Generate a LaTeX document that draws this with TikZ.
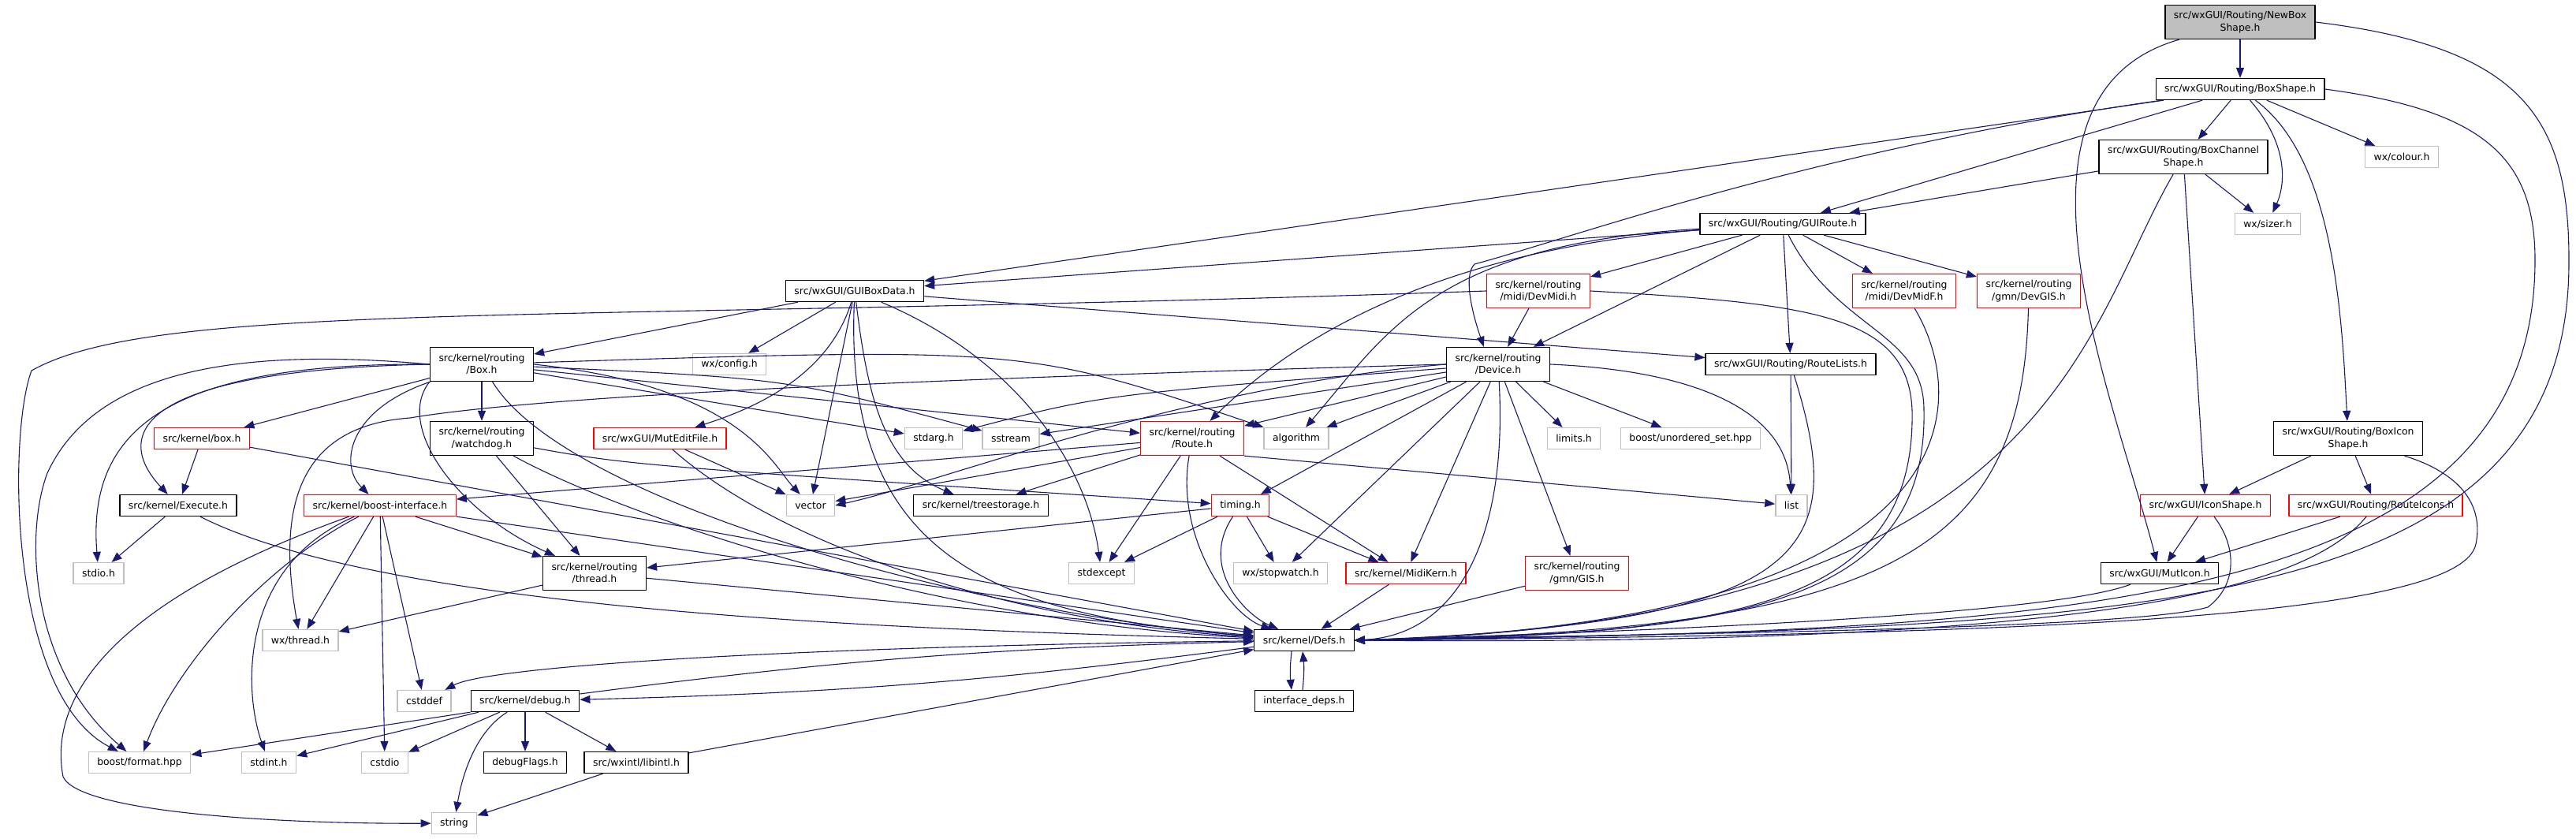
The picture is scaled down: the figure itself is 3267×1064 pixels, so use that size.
\documentclass[tikz,border=0pt]{standalone}
\usepackage{fontspec}
\setmainfont{DejaVu Sans}
\usetikzlibrary{arrows.meta}

\definecolor{edgeblue}{RGB}{25,25,112}
\definecolor{extgray}{RGB}{191,191,191}
\definecolor{rootgray}{RGB}{191,191,191}

\begin{document}
\begin{tikzpicture}[
      x=1pt, y=-1pt, line join=round,
      font=\fontsize{12.4}{15.7}\selectfont,
      hfile/.style={draw=black, line width=1.3pt, fill=white, align=center,
        inner xsep=11pt, inner ysep=3pt, minimum height=27pt},
      hred/.style={hfile, draw=red},
      hgray/.style={hfile, draw=extgray},
      hroot/.style={hfile, fill=rootgray},
      tall/.style={minimum height=43pt},
      incl/.style={draw=edgeblue, line width=1.1pt,
        -{Triangle[length=13pt,width=10pt]}}
    ]

    \useasboundingbox (0,0) rectangle (3267,1064);

    % ------------------ Headers, top rows ------------------
    \node[hroot, tall] (newbox) at (2841,28) {src/wxGUI/Routing/NewBox\\Shape.h};
    \node[hfile] (boxshape) at (2841,113) {src/wxGUI/Routing/BoxShape.h};
    \node[hfile, tall] (boxchan) at (2769,199) {src/wxGUI/Routing/BoxChannel\\Shape.h};
    \node[hgray] (colour) at (3046,199) {wx/colour.h};
    \node[hgray] (sizer) at (2876,284) {wx/sizer.h};
    \node[hfile] (guiroute) at (2261,284) {src/wxGUI/Routing/GUIRoute.h};
    \node[hred, tall] (devmidi) at (1951,369) {src/kernel/routing\\/midi/DevMidi.h};
    \node[hred, tall] (devmidf) at (2415,369) {src/kernel/routing\\/midi/DevMidF.h};
    \node[hred, tall] (devgis) at (2573,369) {src/kernel/routing\\/gmn/DevGIS.h};
    \node[hfile] (guiboxdata) at (1084,369) {src/wxGUI/GUIBoxData.h};

    % ------------------ Headers, middle rows ------------------
    \node[hfile] (routelists) at (2271,462) {src/wxGUI/Routing/RouteLists.h};
    \node[hfile, tall] (device) at (1900,462) {src/kernel/routing\\/Device.h};
    \node[hfile, tall] (box) at (611,462) {src/kernel/routing\\/Box.h};
    \node[hgray] (config) at (925,462) {wx/config.h};
    \node[hred] (muteditfile) at (837,556) {src/wxGUI/MutEditFile.h};
    \node[hfile, tall] (watchdog) at (611,556) {src/kernel/routing\\/watchdog.h};
    \node[hred] (kbox) at (256,556) {src/kernel/box.h};
    \node[hgray] (stdarg) at (1184,556) {stdarg.h};
    \node[hgray] (sstream) at (1282,556) {sstream};
    \node[hred, tall] (route) at (1512,556) {src/kernel/routing\\/Route.h};
    \node[hgray] (algorithm) at (1644,556) {algorithm};
    \node[hgray] (limits) at (1996,556) {limits.h};
    \node[hgray] (unordered) at (2144,556) {boost/unordered\_set.hpp};
    \node[hfile, tall] (boxicon) at (2978,556) {src/wxGUI/Routing/BoxIcon\\Shape.h};
    \node[hfile] (execute) at (226,641) {src/kernel/Execute.h};
    \node[hred] (boostif) at (482,641) {src/kernel/boost-interface.h};
    \node[hgray] (vector) at (1028,641) {vector};
    \node[hfile] (treestorage) at (1244,641) {src/kernel/treestorage.h};
    \node[hred] (timing) at (1573,641) {timing.h};
    \node[hgray] (list) at (2272,641) {list};
    \node[hred] (iconshape) at (2797,641) {src/wxGUI/IconShape.h};
    \node[hred] (routeicons) at (3013,641) {src/wxGUI/Routing/RouteIcons.h};
    \node[hgray] (stdio) at (125,727) {stdio.h};
    \node[hfile, tall] (thread) at (754,727) {src/kernel/routing\\/thread.h};
    \node[hgray] (stdexcept) at (1397,727) {stdexcept};
    \node[hgray] (stopwatch) at (1624,727) {wx/stopwatch.h};
    \node[hred] (midikern) at (1783,727) {src/kernel/MidiKern.h};
    \node[hred, tall] (gis) at (2000,727) {src/kernel/routing\\/gmn/GIS.h};
    \node[hfile] (muticon) at (2739,727) {src/wxGUI/MutIcon.h};

    % ------------------ Headers, bottom rows ------------------
    \node[hgray] (wxthread) at (381,812) {wx/thread.h};
    \node[hfile] (defs) at (1654,812) {src/kernel/Defs.h};
    \node[hgray] (cstddef) at (538,889) {cstddef};
    \node[hfile] (debug) at (666,889) {src/kernel/debug.h};
    \node[hfile] (ifdeps) at (1654,889) {interface\_deps.h};
    \node[hgray] (format) at (177,967) {boost/format.hpp};
    \node[hgray] (stdint) at (341,967) {stdint.h};
    \node[hgray] (cstdio) at (488,967) {cstdio};
    \node[hfile] (debugflags) at (666,967) {debugFlags.h};
    \node[hfile] (libintl) at (807,967) {src/wxintl/libintl.h};
    \node[hgray] (string) at (576,1044) {string};

    % ------------------ Includes: NewBoxShape, BoxShape ------------------
    \draw[incl] (newbox) -- (boxshape);
    \draw[incl] (newbox) .. controls (2520,120) and (2680,500) .. (muticon);
    \draw[incl] (newbox.east) .. controls (3200,60) and (3258,150) .. (3258,330)
    .. controls (3260,790) and (2700,795) .. (defs.east);

    \draw[incl] (boxshape) -- (boxchan);
    \draw[incl] (boxshape) .. controls (2900,180) and (2900,230) .. (sizer);
    \draw[incl] (boxshape) -- (colour);
    \draw[incl] (boxshape) .. controls (2960,200) and (2970,400) .. (boxicon);
    \draw[incl] (boxshape.east) .. controls (3150,140) and (3215,200) .. (3215,330)
    .. controls (3215,780) and (2600,800) .. (defs.east);
    \draw[incl] (boxshape) -- (guiboxdata);
    \draw[incl] (boxshape) -- (guiroute);
    \draw[incl] (boxshape) .. controls (2300,190) and (2000,300) .. (1870,335)
    .. controls (1855,350) and (1868,400) .. ([xshift=48pt]device.north west);

    \draw[incl] (boxchan) -- (sizer);
    \draw[incl] (boxchan) -- (guiroute);
    \draw[incl] (boxchan) -- (iconshape);
    \draw[incl] (boxchan) .. controls (2640,420) and (2600,790) .. (defs.east);

    % ------------------ Includes: GUIRoute and devices ------------------
    \draw[incl] (guiroute) -- (guiboxdata);
    \draw[incl] (guiroute) .. controls (1840,315) and (1650,420) .. (route);
    \draw[incl] (guiroute) .. controls (1820,310) and (1760,420) .. (algorithm);
    \draw[incl] (guiroute) -- (devmidi);
    \draw[incl] (guiroute) -- (device);
    \draw[incl] (guiroute) -- (routelists);
    \draw[incl] (guiroute) -- (devmidf);
    \draw[incl] (guiroute) -- (devgis);
    \draw[incl] (guiroute) .. controls (2330,420) and (2440,420) .. (2440,520)
    .. controls (2445,770) and (2200,805) .. (defs.east);

    \draw[incl] (devmidi) -- (device);
    \draw[incl] (devmidi.west) .. controls (700,410) and (200,380) .. (40,470)
    .. controls (10,550) and (10,880) .. (format);
    \draw[incl] (devmidi.east) .. controls (2300,385) and (2420,400) .. (2425,520)
    .. controls (2430,770) and (2200,805) .. (defs.east);
    \draw[incl] (devmidf) .. controls (2505,520) and (2490,790) .. (defs.east);
    \draw[incl] (devgis) .. controls (2565,700) and (2400,800) .. (defs.east);

    % ------------------ Includes: GUIBoxData, RouteLists ------------------
    \draw[incl] (guiboxdata) -- (box);
    \draw[incl] (guiboxdata) -- (config);
    \draw[incl] (guiboxdata) .. controls (1050,480) and (950,520) .. (muteditfile);
    \draw[incl] (guiboxdata) -- (routelists);
    \draw[incl] (guiboxdata) -- (vector);
    \draw[incl] (guiboxdata) .. controls (1100,500) and (1120,590) .. (treestorage);
    \draw[incl] (guiboxdata) .. controls (1300,460) and (1380,600) .. (stdexcept);
    \draw[incl] (guiboxdata) .. controls (1070,700) and (1250,780) .. (defs);

    \draw[incl] (routelists) -- (list);
    \draw[incl] (routelists) .. controls (2345,700) and (2300,790) .. (defs.east);

    % ------------------ Includes: Device ------------------
    \draw[incl] (device) .. controls (1400,500) .. (stdarg);
    \draw[incl] (device) -- (sstream);
    \draw[incl] (device) -- (algorithm);
    \draw[incl] (device) -- (route);
    \draw[incl] (device.west) .. controls (1500,490) and (1200,610) .. (vector.east);
    \draw[incl] (device.west) .. controls (1200,480) and (700,500) .. (520,530)
    .. controls (380,540) and (350,640) .. (wxthread);
    \draw[incl] (device) -- (timing);
    \draw[incl] (device) -- (midikern);
    \draw[incl] (device) -- (stopwatch);
    \draw[incl] (device) -- (gis);
    \draw[incl] (device) -- (limits);
    \draw[incl] (device) -- (unordered);
    \draw[incl] (device.east) .. controls (2150,470) and (2265,520) .. (list);
    \draw[incl] (device) .. controls (1912,680) and (1850,805) .. (defs.east);

    % ------------------ Includes: Box ------------------
    \draw[incl] (box) -- (watchdog);
    \draw[incl] (box) -- (kbox);
    \draw[incl] (box.west) .. controls (150,470) and (150,560) .. (execute);
    \draw[incl] (box) .. controls (440,520) and (430,590) .. (boostif);
    \draw[incl] (box.south west) .. controls (500,540) and (580,650) .. (thread);
    \draw[incl] (box.west) .. controls (220,460) and (110,540) .. (stdio);
    \draw[incl] (box.west) .. controls (300,440) and (120,470) .. (60,600)
    .. controls (30,680) and (40,850) .. (format);
    \draw[incl] (box) -- (stdarg);
    \draw[incl] (box) .. controls (1000,480) .. (sstream);
    \draw[incl] (box) -- (route);
    \draw[incl] (box) .. controls (1300,440) .. (algorithm.north west);
    \draw[incl] (box.east) .. controls (940,490) and (980,590) .. (vector);
    \draw[incl] (box) .. controls (720,640) and (1250,780) .. (defs);

    \draw[incl] (watchdog) -- (thread);
    \draw[incl] (watchdog) .. controls (800,590) .. (timing);
    \draw[incl] (watchdog) .. controls (800,660) and (1200,790) .. (defs);

    \draw[incl] (kbox) -- (execute);
    \draw[incl] (kbox) -- (defs);
    \draw[incl] (execute) -- (stdio);
    \draw[incl] (execute) .. controls (500,780) and (1200,800) .. (defs);
    \draw[incl] (muteditfile) -- (vector);
    \draw[incl] (muteditfile) .. controls (1000,700) and (1300,790) .. (defs);

    % ------------------ Includes: Route, timing ------------------
    \draw[incl] (route) -- (boostif);
    \draw[incl] (route) -- (vector);
    \draw[incl] (route) -- (treestorage);
    \draw[incl] (route) -- (stdexcept);
    \draw[incl] (route) -- (midikern);
    \draw[incl] (route.south east) -- (list);
    \draw[incl] (route) .. controls (1490,680) and (1560,780) .. (defs);

    \draw[incl] (timing) -- (thread);
    \draw[incl] (timing) -- (stdexcept);
    \draw[incl] (timing) -- (stopwatch);
    \draw[incl] (timing) -- (midikern);
    \draw[incl] (timing) .. controls (1520,720) and (1580,780) .. (defs);

    % ------------------ Includes: boost-interface, thread ------------------
    \draw[incl] (boostif) .. controls (330,720) and (220,850) .. (format);
    \draw[incl] (boostif) .. controls (150,760) and (60,880) .. (80,985)
    .. controls (100,1030) and (350,1045) .. (string);
    \draw[incl] (boostif) .. controls (300,720) and (310,880) .. (stdint);
    \draw[incl] (boostif) -- (cstdio);
    \draw[incl] (boostif) -- (cstddef);
    \draw[incl] (boostif) -- (wxthread);
    \draw[incl] (boostif) -- (thread);
    \draw[incl] (boostif) -- (defs);

    \draw[incl] (thread) -- (wxthread);
    \draw[incl] (thread) -- (defs);

    % ------------------ Includes: icons and kernel leaves ------------------
    \draw[incl] (boxicon) -- (iconshape);
    \draw[incl] (boxicon) -- (routeicons);
    \draw[incl] (boxicon) .. controls (3120,600) and (3150,640) .. (3140,690)
    .. controls (3120,790) and (2500,805) .. (defs.east);
    \draw[incl] (iconshape) -- (muticon);
    \draw[incl] (iconshape) .. controls (2835,690) and (2840,740) .. (2800,770)
    .. controls (2700,800) and (2000,805) .. (defs.east);
    \draw[incl] (routeicons) -- (muticon);
    \draw[incl] (routeicons) .. controls (2930,740) and (2700,820) .. (defs.east);
    \draw[incl] (muticon) .. controls (2600,780) and (2100,800) .. (defs.east);
    \draw[incl] (midikern) -- (defs);
    \draw[incl] (gis) -- (defs);

    % ------------------ Includes: Defs, debug ------------------
    \draw[incl] (defs) to[bend left=3] (debug);
    \draw[incl] (debug) to[bend left=3] (defs);
    \draw[incl] (defs) .. controls (1000,820) and (620,845) .. (cstddef);
    \draw[incl] ([xshift=-16pt]defs.south) to[bend right=6] ([xshift=-16pt]ifdeps.north);
    \draw[incl] ([xshift=-2pt]ifdeps.north) to[bend right=6] ([xshift=-2pt]defs.south);

    \draw[incl] (debug.south west) -- (format);
    \draw[incl] (debug) -- (stdint);
    \draw[incl] (debug) -- (cstdio);
    \draw[incl] (debug) .. controls (600,930) and (585,990) .. (string);
    \draw[incl] (debug) -- (debugflags);
    \draw[incl] (debug) -- (libintl);
    \draw[incl] (libintl) -- (string);
    \draw[incl] (libintl) -- (defs);

  \end{tikzpicture}
\end{document}
